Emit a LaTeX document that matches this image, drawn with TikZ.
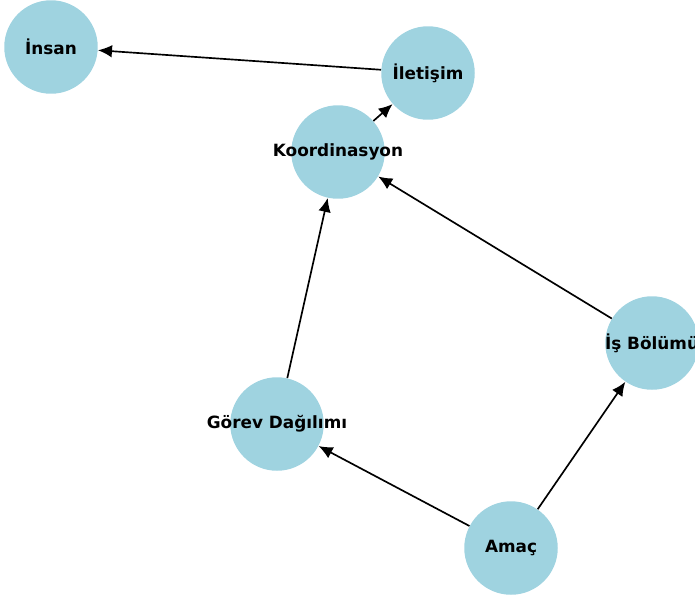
\documentclass[tikz,border=0pt]{standalone}
\usepackage{fontspec}
\setmainfont{DejaVu Sans}
\usetikzlibrary{arrows.meta}
\definecolor{nodeblue}{RGB}{159,211,224}
\begin{document}
\begin{tikzpicture}[x=0.02cm,y=-0.02cm,
    vertex/.style={circle, fill=nodeblue, minimum size=1.87cm, inner sep=0pt},
    vtext/.style={font=\fontsize{9.6}{11}\selectfont\bfseries},
    edge/.style={-{Latex[length=0.28cm,width=0.25cm]}, line width=0.95pt}]
  \useasboundingbox (0,0) rectangle (695,599);
  \clip (0,0) rectangle (695,599);
  % nodes
  \node [vertex] (insan) at (51,47) {};
  \node [vertex] (iletisim) at (428,73) {};
  \node [vertex] (koord) at (338,152) {};
  \node [vertex] (isbolumu) at (652,343) {};
  \node [vertex] (gorev) at (277,424) {};
  \node [vertex] (amac) at (511,548) {};
  % labels
  \node [vtext] at (insan) {İnsan};
  \node [vtext] at (iletisim) {İletişim};
  \node [vtext] at (koord) {Koordinasyon};
  \node [vtext] at (isbolumu) {İş Bölümü};
  \node [vtext] at (gorev) {Görev Dağılımı};
  \node [vtext] at (amac) {Amaç};
  % edges
  \draw [edge] (iletisim) -- (insan);
  \draw [edge] (koord) -- (iletisim);
  \draw [edge] (isbolumu) -- (koord);
  \draw [edge] (gorev) -- (koord);
  \draw [edge] (amac) -- (gorev);
  \draw [edge] (amac) -- (isbolumu);
\end{tikzpicture}
\end{document}
